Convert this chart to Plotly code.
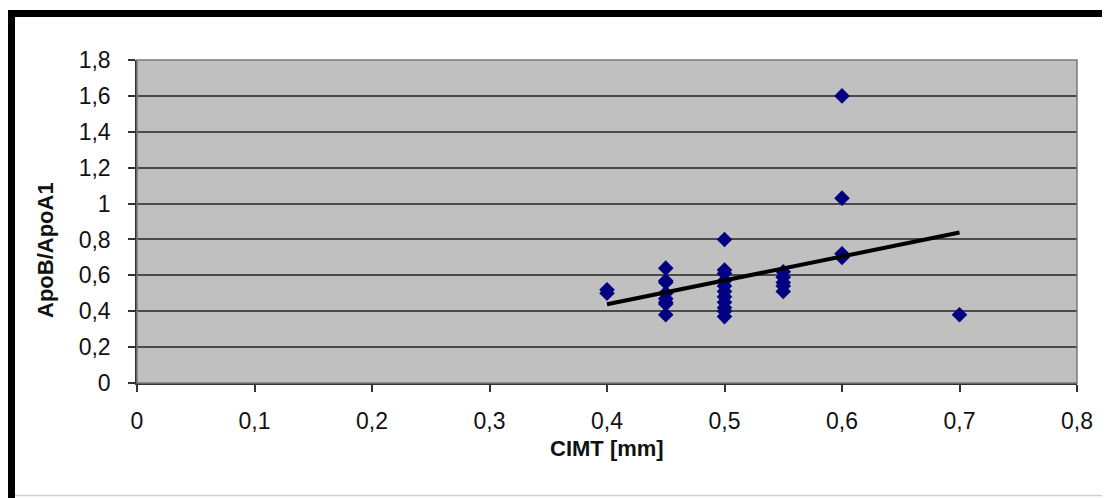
import numpy as np
import plotly.graph_objects as go

# ---- data ----
cimt = [0.40, 0.40,
        0.45, 0.45, 0.45, 0.45, 0.45, 0.45, 0.45, 0.45,
        0.50, 0.50, 0.50, 0.50, 0.50, 0.50, 0.50, 0.50, 0.50, 0.50, 0.50,
        0.55, 0.55, 0.55, 0.55, 0.55,
        0.60, 0.60, 0.60, 0.60,
        0.70]
apo_ratio = [0.52, 0.50,
             0.64, 0.57, 0.56, 0.50, 0.47, 0.45, 0.44, 0.38,
             0.80, 0.63, 0.61, 0.57, 0.54, 0.51, 0.48, 0.45, 0.42, 0.40, 0.37,
             0.62, 0.59, 0.56, 0.54, 0.51,
             1.60, 1.03, 0.72, 0.70,
             0.38]

x_tickvals = [0, 0.1, 0.2, 0.3, 0.4, 0.5, 0.6, 0.7, 0.8]
x_ticktext = ["0", "0,1", "0,2", "0,3", "0,4", "0,5", "0,6", "0,7", "0,8"]
y_tickvals = [0, 0.2, 0.4, 0.6, 0.8, 1.0, 1.2, 1.4, 1.6, 1.8]
y_ticktext = ["0", "0,2", "0,4", "0,6", "0,8", "1", "1,2", "1,4", "1,6", "1,8"]

x_title = "CIMT [mm]"
y_title = "ApoB/ApoA1"

# linear trendline (least squares) over the data range
slope, intercept = np.polyfit(cimt, apo_ratio, 1)
trend_x = [min(cimt), max(cimt)]
trend_y = [slope * v + intercept for v in trend_x]

# the page places the figure at an 8px body offset
OFF = 8
W, H = 1110 - OFF, 498 - OFF
ML, MR, MT, MB = 137 - OFF, 33, 60 - OFF, 115
PW, PH = W - ML - MR, H - MT - MB

def px_x(p):          # page pixel -> paper x
    return (p - OFF - ML) / PW

def px_y(p):          # page pixel -> paper y
    return (H - MB - (p - OFF)) / PH

FONT = "Liberation Sans, Arial, sans-serif"

fig = go.Figure()
fig.add_trace(go.Scatter(
    x=cimt, y=apo_ratio, mode="markers",
    marker=dict(symbol="diamond", size=12, color="#000080",
                line=dict(width=0)),
    showlegend=False, hoverinfo="x+y"))
fig.add_trace(go.Scatter(
    x=trend_x, y=trend_y, mode="lines",
    line=dict(color="black", width=4),
    showlegend=False, hoverinfo="skip"))

fig.update_layout(
    width=W, height=H,
    margin=dict(l=ML, r=MR, t=MT, b=MB, pad=0),
    paper_bgcolor="white",
    plot_bgcolor="#C0C0C0",
    font=dict(family=FONT, size=23, color="#111111"),
    showlegend=False,
    xaxis=dict(
        range=[0, 0.8], tickvals=x_tickvals, ticktext=x_ticktext,
        showgrid=False, zeroline=False,
        showline=True, linecolor="#333333", linewidth=1.5,
        ticks="outside", ticklen=7, tickwidth=1.5, tickcolor="#333333",
        ticklabelstandoff=10,
        tickfont=dict(size=23),
    ),
    yaxis=dict(
        range=[0, 1.8], tickvals=y_tickvals, ticktext=y_ticktext,
        showgrid=True, gridcolor="#4a4a4a", gridwidth=1.5,
        zeroline=False,
        showline=True, linecolor="#333333", linewidth=1.5,
        ticks="outside", ticklen=7, tickwidth=1.5, tickcolor="#333333",
        ticklabelstandoff=13,
        tickfont=dict(size=23),
    ),
    annotations=[
        dict(text="<b>" + x_title + "</b>", xref="paper", yref="paper",
             x=px_x(607), y=px_y(448), xanchor="center", yanchor="middle",
             showarrow=False, font=dict(size=22, color="#111111")),
        dict(text="<b>" + y_title + "</b>", xref="paper", yref="paper",
             x=px_x(45), y=px_y(250), xanchor="center", yanchor="middle",
             textangle=-90, showarrow=False, font=dict(size=22, color="#111111")),
    ],
)

# plot-area border (right / top edges)
fig.add_shape(type="rect", xref="paper", yref="paper", x0=0, y0=0, x1=1, y1=1,
              line=dict(color="#7a7a7a", width=1.5), fillcolor="rgba(0,0,0,0)",
              layer="above")
# outer black frame (top and left edges) and faint bottom edge
fig.add_shape(type="line", xref="paper", yref="paper",
              x0=px_x(8), x1=px_x(1115), y0=px_y(13.5), y1=px_y(13.5),
              line=dict(color="black", width=7))
fig.add_shape(type="line", xref="paper", yref="paper",
              x0=px_x(11.5), x1=px_x(11.5), y0=px_y(10), y1=px_y(503),
              line=dict(color="black", width=7))
fig.add_shape(type="line", xref="paper", yref="paper",
              x0=px_x(15), x1=px_x(1115), y0=px_y(495.5), y1=px_y(495.5),
              line=dict(color="#d0d0d0", width=1.5))

fig.write_html("out.html")
